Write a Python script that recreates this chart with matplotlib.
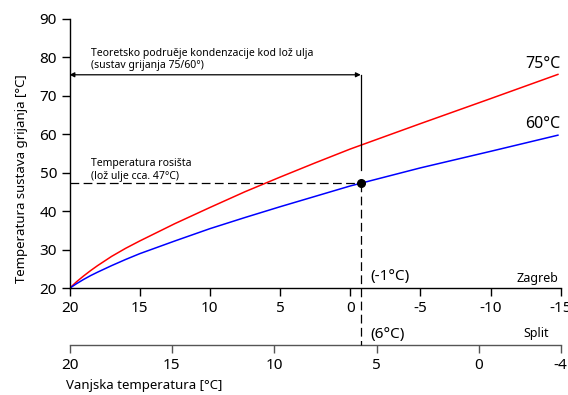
import matplotlib
matplotlib.use("Agg")
import matplotlib.pyplot as plt
import matplotlib.transforms as mtransforms

plt.rcParams["font.family"] = ["Noto Sans", "DejaVu Sans"]
plt.rcParams["axes.unicode_minus"] = False

# outdoor temperature, Zagreb scale [°C]
t_zagreb = [20, 19.5, 19, 18.5, 18, 17, 16, 15, 12.5, 10, 7.5, 5, 2.5, 0,
            -5, -10, -14.8]
# supply temperature of the heating system [°C]
t_supply_75 = [20, 21.7, 23.2, 24.6, 25.9, 28.3, 30.4, 32.3, 36.8, 41.0,
               45.1, 48.9, 52.6, 56.2, 62.8, 69.3, 75.6]
t_supply_60 = [20, 21.2, 22.3, 23.3, 24.2, 25.9, 27.5, 29.0, 32.3, 35.5,
               38.4, 41.2, 43.9, 46.6, 51.3, 55.6, 59.8]

zagreb_ticks = [20, 15, 10, 5, 0, -5, -10, -15]
split_ticks = [20, 15, 10, 5, 0, -4]
y_ticks = [20, 30, 40, 50, 60, 70, 80, 90]

dew_point = 47.4        # lož ulje, cca. 47 °C
dew_x = -0.75           # Zagreb scale, ~ -1 °C (Split ~ 6 °C)
cond_level = 75.5       # height of the condensation-range arrow


def z2s(z):
    return 20 - (20 - z) * 24 / 35


def s2z(s):
    return 20 - (20 - s) * 35 / 24


fig = plt.figure(figsize=(5.68, 3.95), dpi=100)
ax = fig.add_axes([0.1224, 0.2701, 0.8648, 0.6818])

ax.plot(t_zagreb, t_supply_75, color="#ff0000", lw=1.1)
ax.plot(t_zagreb, t_supply_60, color="#0000ff", lw=1.1)

ax.set_xlim(20, -15)
ax.set_ylim(20, 90)
ax.set_xticks(zagreb_ticks)
ax.set_yticks(y_ticks)
for s in ("top", "right"):
    ax.spines[s].set_visible(False)
for s in ("left", "bottom"):
    ax.spines[s].set_linewidth(1.0)
ax.tick_params(labelsize=11, length=6, width=1.0, pad=3)

# second outdoor scale (Split)
split_pos = -0.2105
sec = ax.secondary_xaxis(split_pos, functions=(z2s, s2z))
sec.set_xticks(split_ticks)
sec.spines["bottom"].set_color("#555555")
sec.spines["bottom"].set_linewidth(1.0)
sec.tick_params(labelsize=11, length=6, width=1.0, pad=3, color="#555555")

# dew point lines
ax.plot([20, dew_x], [dew_point, dew_point], color="black", lw=0.9,
        dashes=(7, 3.5), clip_on=False)
trans = mtransforms.blended_transform_factory(ax.transData, ax.transAxes)
y_dot_ax = (dew_point - 20) / 70
ax.plot([dew_x, dew_x], [y_dot_ax, split_pos], color="black", lw=0.9,
        dashes=(7, 3.5), transform=trans, clip_on=False)
ax.plot([dew_x, dew_x], [cond_level, 50.8], color="black", lw=0.9)
ax.plot([dew_x], [dew_point], "o", color="black", ms=5.5, zorder=5)

# condensation range arrow
ax.annotate("", xy=(20, cond_level), xytext=(dew_x, cond_level),
            arrowprops=dict(arrowstyle="<|-|>", color="black", lw=0.9,
                            mutation_scale=7, shrinkA=0, shrinkB=0))

ax.text(18.49, 80.4, "Teoretsko podruěje kondenzacije kod lož ulja",
        fontsize=7.5, va="baseline")
ax.text(18.49, 77.3, "(sustav grijanja 75/60°)", fontsize=7.5, va="baseline")
ax.text(18.49, 51.9, "Temperatura rosišta", fontsize=7.5, va="baseline")
ax.text(18.49, 48.4, "(lož ulje cca. 47°C)", fontsize=7.5, va="baseline")

ax.text(-15.0, 77.2, "75°C", fontsize=11.5, ha="right", va="baseline")
ax.text(-15.0, 61.6, "60°C", fontsize=11.5, ha="right", va="baseline")

ax.text(-1.41, 22.2, "(-1°C)", fontsize=11, va="baseline")
ax.text(-14.83, 21.7, "Zagreb", fontsize=9, ha="right", va="baseline")
ax.text(-1.41, 7.2, "(6°C)", fontsize=11, va="baseline", clip_on=False)
ax.text(-14.17, 7.3, "Split", fontsize=9, ha="right", va="baseline", clip_on=False)

fig.text(22 / 568, 0.549, "Temperatura sustava grijanja [°C]", fontsize=9.5,
         rotation=90, ha="center", va="center")
fig.text(66 / 568, 10 / 395, "Vanjska temperatura [°C]", fontsize=9.5,
         ha="left", va="center")

fig.savefig("out.png", dpi=100)
